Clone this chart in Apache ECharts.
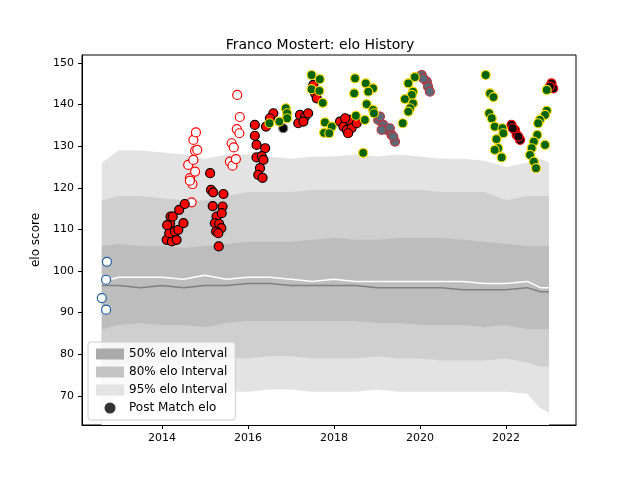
<!DOCTYPE html>
<html>
<head>
<meta charset="utf-8">
<script src="https://cdn.jsdelivr.net/npm/echarts@6/dist/echarts.min.js"></script>
<style>html,body{margin:0;background:#fff}#chart{width:640px;height:480px}</style>
</head>
<body>
<div id="chart"></div>
<script>
// band timeline (years) and interval bounds
const bandYears = [2012.6, 2013.0, 2013.5, 2014.0, 2014.5, 2015.0, 2015.5, 2016.0, 2016.5, 2017.0, 2017.5, 2018.0, 2018.5, 2019.0, 2019.5, 2020.0, 2020.5, 2021.0, 2021.5, 2022.0, 2022.5, 2022.8, 2023.0];
const hi95 = [126, 129, 129, 128.5, 128, 127, 128, 128, 127.5, 127, 127.5, 127.5, 128, 127.5, 128, 127.5, 127, 127, 126.5, 125, 126, 127, 126];
const hi80 = [117, 118, 118, 117.5, 117, 117, 118, 119, 119, 119, 119.5, 119.5, 119.5, 119.5, 119.5, 119.5, 119, 119, 119, 117, 118, 118, 118];
const hi50 = [106, 106.5, 106, 106, 105.5, 106, 106.5, 107, 107, 107, 107.5, 108, 107.5, 107.5, 108, 108, 108, 107.5, 107, 106.5, 106, 106, 106];
const median = [97.5, 98.5, 98.5, 98.5, 98, 99, 98, 98.5, 98.5, 98, 97.5, 98, 97.5, 97.5, 97.5, 97.5, 97.5, 97.5, 97, 97, 97.5, 96, 96];
const mean = [96.5, 96.5, 96, 96.5, 96, 96.5, 96.5, 97, 97, 96.5, 96.5, 96.5, 96.5, 96, 96, 96, 96, 95.5, 95.5, 95.5, 96, 95, 95];
const lo50 = [86, 87, 87.5, 87, 87, 86.5, 87.5, 88, 88, 88, 88, 88, 88, 87.5, 87.5, 87, 87, 87, 86.5, 87, 86, 86, 86];
const lo80 = [77, 77.5, 78, 78, 77.5, 78, 79, 79, 79.5, 79.5, 79, 79, 79, 79.5, 79, 79, 78.5, 78.5, 78.5, 79, 78, 77, 77];
const lo95 = [68, 70, 70.5, 71, 70, 70.5, 71, 71, 71.5, 71.5, 71, 71, 71, 71.5, 71, 71, 71, 71, 71, 71, 70.5, 67, 66];

// post-match elo points, grouped by marker style: [year, elo]
const bluePts = [[2012.72, 102.2], [2012.70, 97.9], [2012.60, 93.5], [2012.70, 90.7]];
const hollowRedPts = [[2014.69, 116.5], [2014.71, 120.9], [2014.65, 122.3], [2014.77, 123.9], [2014.61, 125.5], [2014.73, 126.7], [2014.77, 128.9], [2014.82, 129.1], [2014.73, 131.5], [2014.79, 133.3], [2014.65, 121.7],
  [2015.75, 142.3], [2015.81, 137], [2015.74, 134.1], [2015.80, 133.1], [2015.62, 130.7], [2015.67, 129.7], [2015.58, 126.3], [2015.64, 125.3], [2015.72, 126.9]];
const redPts = [[2014.11, 107.5], [2014.23, 107.1], [2014.34, 107.5], [2014.17, 109.1], [2014.19, 111.5], [2014.2, 113.1], [2014.30, 109.5], [2014.38, 109.9], [2014.5, 111.5], [2014.40, 114.7], [2014.53, 116.1], [2014.12, 111.0], [2014.25, 113.1],
  [2015.12, 123.5], [2015.14, 119.5], [2015.19, 118.9], [2015.43, 118.5], [2015.18, 115.6], [2015.41, 115.5], [2015.27, 113.1], [2015.39, 113.9], [2015.23, 111.5], [2015.33, 111.3], [2015.38, 110.3], [2015.26, 109.5], [2015.31, 109.1], [2015.32, 105.9],
  [2016.16, 135.1], [2016.16, 132.5], [2016.20, 130.3], [2016.40, 129.5], [2016.2, 127.3], [2016.32, 127.6], [2016.36, 126.7], [2016.28, 124.7], [2016.24, 123.1], [2016.34, 122.4], [2016.59, 137.9], [2016.51, 136.7], [2016.42, 134.7],
  [2017.17, 135.5], [2017.21, 137.5], [2017.33, 137.1], [2017.40, 137.9], [2017.29, 135.9], [2017.52, 144.7], [2017.56, 142.7], [2017.60, 141.5],
  [2018.14, 135.9], [2018.22, 134.7], [2018.30, 133.9], [2018.37, 136.3], [2018.26, 136.7], [2018.41, 134.3], [2018.33, 133.1], [2018.53, 135.5]];
const blackGrayPts = [[2016.82, 134.3]];
const greenPts = [[2017.48, 147.1], [2017.67, 146.1], [2017.48, 143.7], [2017.66, 143.3], [2017.74, 140.4], [2016.88, 139.1], [2016.91, 137.9], [2016.91, 136.7], [2016.73, 135.9], [2016.50, 135.5],
  [2017.79, 135.7], [2017.95, 134.7], [2017.77, 133.2], [2017.89, 133.1], [2018.49, 146.3], [2018.74, 145.1], [2018.91, 143.9], [2018.80, 143.1], [2018.47, 142.7], [2018.76, 140.1], [2018.91, 138.7], [2018.93, 137.9], [2018.72, 136.3], [2018.51, 137.3], [2018.68, 128.4],
  [2019.88, 146.6], [2019.73, 145.1], [2019.84, 143.1], [2019.81, 142.3], [2019.65, 141.3], [2019.84, 140.3], [2019.77, 139.1], [2019.73, 138.3], [2019.60, 135.5],
  [2021.53, 147.1], [2021.63, 142.7], [2021.71, 141.8], [2021.61, 137.9], [2021.67, 136.7], [2021.74, 134.7], [2021.92, 134.3], [2021.94, 133.1], [2021.78, 131.7], [2021.82, 129.5], [2021.74, 129.1], [2021.90, 127.3],
  [2022.95, 143.5], [2022.95, 138.5], [2022.91, 137.5], [2022.79, 136.3], [2022.75, 135.5], [2022.73, 132.7], [2022.65, 131.1], [2022.60, 129.5], [2022.56, 127.9], [2022.65, 126.3], [2022.70, 124.7], [2022.91, 130.3]];
const grayRedPts = [[2019.03, 136.3], [2019.15, 135.1], [2019.23, 133.9], [2019.30, 134.3], [2019.34, 132.7], [2019.42, 131.1], [2019.11, 133.9], [2019.07, 137.1], [2019.38, 132.3],
  [2020.04, 147.1], [2020.16, 145.5], [2020.19, 144.3], [2020.23, 143.1], [2020.08, 146.3]];
const blackRedPts = [[2022.13, 135.1], [2022.21, 133.9], [2022.25, 132.7], [2022.33, 131.5], [2022.16, 134.3], [2022.29, 132.3], [2023.06, 145.1], [2023.10, 143.9], [2023.02, 144.3]];

const xTicks = [2014, 2016, 2018, 2020, 2022];
const yTicks = [70, 80, 90, 100, 110, 120, 130, 140, 150];

const C95 = '#e3e3e3', C80 = '#cfcfcf', C50 = '#bdbdbd';
const pair = (arr) => bandYears.map((x, i) => [x, arr[i]]);

// each bound filled down to the axis floor, painted top to bottom so the layers form the bands
function fill(name, arr, color) {
  return {
    name: name, type: 'line', data: pair(arr), showSymbol: false, symbol: 'none',
    lineStyle: { width: 0 }, areaStyle: { color: color, opacity: 1, origin: 'start' },
    itemStyle: { color: color }, z: 1, silent: true
  };
}
function pts(data, fill, edge, z) {
  return {
    type: 'scatter', data: data, symbolSize: 9, z: z || 5,
    itemStyle: { color: fill, borderColor: edge, borderWidth: 1.2, opacity: 1 }
  };
}

const chart = echarts.init(document.getElementById('chart'));
chart.setOption({
  animation: false,
  title: { text: 'Franco Mostert: elo History', left: 'center', top: 33,
    textStyle: { fontFamily: 'DejaVu Sans', fontSize: 14, fontWeight: 'normal', color: '#000' } },
  grid: { left: 82, right: 64, top: 55, bottom: 55, show: true, borderColor: '#000', borderWidth: 1 },
  xAxis: {
    type: 'value', min: 2012.14, max: 2023.63,
    axisLine: { show: true, lineStyle: { color: '#000' } },
    axisTick: { show: true, customValues: xTicks, length: 4, lineStyle: { color: '#000' } },
    axisLabel: { customValues: xTicks, formatter: (v) => String(v), color: '#000', fontFamily: 'DejaVu Sans', fontSize: 11 },
    splitLine: { show: false }
  },
  yAxis: {
    type: 'value', min: 63, max: 151.9,
    name: 'elo score', nameLocation: 'middle', nameGap: 38,
    nameTextStyle: { color: '#000', fontFamily: 'DejaVu Sans', fontSize: 12 },
    axisLine: { show: true, lineStyle: { color: '#000' } },
    axisTick: { show: true, customValues: yTicks, length: 4, lineStyle: { color: '#000' } },
    axisLabel: { customValues: yTicks, color: '#000', fontFamily: 'DejaVu Sans', fontSize: 11 },
    splitLine: { show: false }
  },
  legend: {
    orient: 'vertical', left: 88, bottom: 60, itemGap: 6, itemWidth: 28, itemHeight: 11,
    backgroundColor: 'rgba(255,255,255,0.8)', borderColor: '#ccc', borderWidth: 1, borderRadius: 3, padding: [6, 8],
    textStyle: { fontFamily: 'DejaVu Sans', fontSize: 12, color: '#000' },
    data: [
      { name: '50% elo Interval', icon: 'rect', itemStyle: { color: '#aaaaaa' } },
      { name: '80% elo Interval', icon: 'rect', itemStyle: { color: '#c4c4c4' } },
      { name: '95% elo Interval', icon: 'rect', itemStyle: { color: '#e3e3e3' } },
      { name: 'Post Match elo', icon: 'circle', itemStyle: { color: '#000' } }
    ]
  },
  series: [
    fill('95% elo Interval', hi95, C95),
    fill('80% elo Interval', hi80, C80),
    fill('50% elo Interval', hi50, C50),
    fill('80% elo Interval', lo50, C80),
    fill('95% elo Interval', lo80, C95),
    fill('base', lo95, '#ffffff'),
    { type: 'line', data: pair(mean), showSymbol: false, lineStyle: { color: '#808080', width: 1.5 }, z: 2, silent: true },
    { type: 'line', data: pair(median), showSymbol: false, lineStyle: { color: '#ffffff', width: 1.5 }, z: 2, silent: true },
    { name: 'Post Match elo', type: 'scatter', data: [], itemStyle: { color: '#000' } },
    pts(bluePts, '#ffffff', '#1f5fa8'),
    pts(hollowRedPts, '#ffffff', '#ff0000'),
    pts(redPts, '#ff0000', '#000000'),
    pts(blackGrayPts, '#000000', '#808080'),
    pts(grayRedPts, '#5a6b78', '#c0303a'),
    pts(greenPts, '#006400', '#ffd700', 6),
    pts(blackRedPts, '#000000', '#ff0000')
  ]
});
</script>
</body>
</html>
